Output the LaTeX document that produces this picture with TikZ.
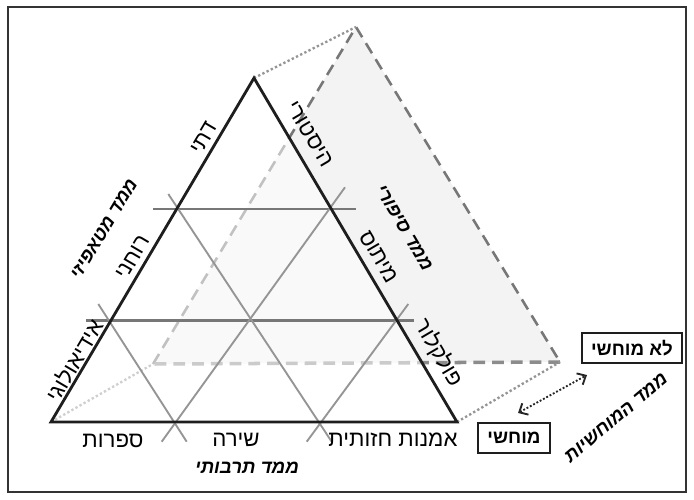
\documentclass[tikz,border=0pt]{standalone}
\usepackage{fontspec}
\setmainfont{Liberation Sans}
\newfontfamily\hebfont[Script=Hebrew]{Liberation Sans}
\TeXXeTstate=1
\usetikzlibrary{arrows.meta,calc}
\definecolor{edgeblack}{HTML}{1E1E1E}
\definecolor{gridgray}{HTML}{777777}
\definecolor{diaggray}{HTML}{959595}
\definecolor{backdash}{HTML}{777777}
\definecolor{backfill}{HTML}{F3F3F3}
\newcommand{\heb}[1]{\beginR #1\endR}
\tikzset{
  sidelabel/.style={font=\hebfont\fontsize{19}{22}\selectfont, inner sep=1pt},
  dimlabel/.style={font=\hebfont\bfseries\itshape\fontsize{16}{19}\selectfont, inner sep=1pt},
  statebox/.style={draw=edgeblack, line width=1.6pt, fill=white, font=\hebfont\bfseries\fontsize{16}{19}\selectfont, inner xsep=8pt, minimum height=26pt},
  gridline/.style={draw=gridgray, line width=1.8pt},
  diagline/.style={draw=diaggray, line width=1.6pt},
  backline/.style={draw=backdash, line width=2.2pt, dash pattern=on 10pt off 6pt},
  linkline/.style={draw=diaggray, line width=2pt, dash pattern=on 2pt off 2pt},
}
\begin{document}
\begin{tikzpicture}[x=0.03cm,y=-0.03cm]
\useasboundingbox (0,0) rectangle (694,499);
\draw[black!80, line width=1.1pt] (8,7) rectangle (686,492);

\coordinate (apex) at (254,78);
\coordinate (left) at (51,422);
\coordinate (right) at (457,422);
\coordinate (bapex) at (356,27);
\coordinate (bleft) at (153,364);
\coordinate (bright) at (560,362);

\fill[backfill] (bapex) -- (bleft) -- (bright) -- cycle;
\draw[backline] (bleft) -- (bapex) -- (bright);
\draw[backline, draw=black!45, line width=3pt] (bright) -- (bleft);
\draw[linkline] (apex) -- (bapex);
\draw[linkline] (right) -- (bright);
\draw[linkline] (left) -- (bleft);
\fill[white, opacity=0.55] (apex) -- (left) -- (right) -- cycle;

\draw[gridline] (153,209) -- (356,209);
\draw[gridline] (86,320.5) -- (414,320.5);
\draw[diagline] (161.7,441.7) -- (345,187.3);
\draw[diagline] (331.7,441.7) -- (168.3,194);
\draw[diagline] (186.7,441.7) -- (98.3,304);
\draw[diagline] (306.7,441.7) -- (408.3,304);
\draw[edgeblack, line width=2.4pt] (apex) -- (left) -- (right) -- cycle;

\node[sidelabel, rotate=59.5] (religious) at (204,138) {\heb{דתי}};
\node[sidelabel, rotate=59.5] (spiritual) at (133,257) {\heb{רוחני}};
\node[sidelabel, rotate=59.5] (ideological) at (74,360) {\heb{אידיאולוגי}};
\node[dimlabel, rotate=59] (metaphysical) at (104,229) {\heb{ממד מטאפיזי}};
\node[sidelabel, rotate=-59.5] (historical) at (310,134) {\heb{היסטורי}};
\node[sidelabel, rotate=-59.5] (myth) at (379,257) {\heb{מיתוס}};
\node[sidelabel, rotate=-59.5] (folklore) at (439,353) {\heb{פולקלור}};
\node[dimlabel, rotate=-59.5] (narrative) at (404,228) {\heb{ממד סיפורי}};
\node[sidelabel] (literature) at (113,441) {\heb{ספרות}};
\node[sidelabel] (poetry) at (236,440) {\heb{שירה}};
\node[sidelabel] (visualart) at (393,440) {\heb{אמנות חזותית}};
\node[dimlabel] (cultural) at (247,468) {\heb{ממד תרבותי}};

\node[statebox] (abstract) at (632,348) {\heb{לא מוחשי}};
\node[statebox] (concrete) at (514,438) {\heb{מוחשי}};
\coordinate (tanglow) at (518,413);
\coordinate (tanghigh) at (587,375);
\draw[black!85, line width=1.6pt, dash pattern=on 1.6pt off 1.6pt, {Straight Barb[length=6pt,width=11pt]}-{Straight Barb[length=6pt,width=11pt]}] (tanglow) -- (tanghigh);
\node[dimlabel, rotate=40] (tangibility) at (616,418) {\heb{ממד המוחשיות}};
\end{tikzpicture}
\end{document}
